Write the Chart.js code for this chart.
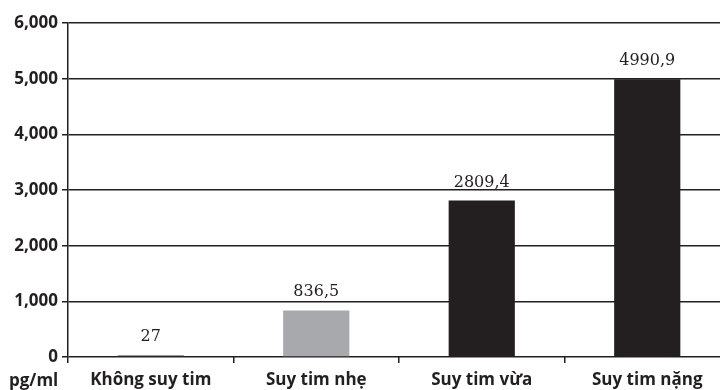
<!DOCTYPE html>
<html>
<head>
<meta charset="utf-8">
<script src="https://cdn.jsdelivr.net/npm/chart.js@4/dist/chart.umd.min.js"></script>
<style>
    body { margin: 0; background: #fff; overflow: hidden; width: 720px; height: 390px; }
    canvas { display: block; }
</style>
</head>
<body>
<canvas id="grafico-nt" width="740" height="390"></canvas>
<script>
// Nồng độ NT-proBNP theo mức độ suy tim
var nhomSuyTim = ['Không suy tim', 'Suy tim nhẹ', 'Suy tim vừa', 'Suy tim nặng'];
var giaTri = [27, 836.5, 2809.4, 4990.9];
var mauCot = ['#3a3839', '#a7a9ac', '#231f20', '#231f20'];
var vachTrucY = [0, 1000, 2000, 3000, 4000, 5000, 6000];
var donVi = 'pg/ml';

var mauChu = '#231f20';
var fontSans = '"Open Sans", "DejaVu Sans", sans-serif';

document.addEventListener('DOMContentLoaded', function() {
    // Giá trị trên đầu cột và đơn vị ở góc dưới trái
    var nhanChu = {
        id: 'nhanChu',
        afterDraw: function(chart) {
            var c = chart.ctx;
            var meta = chart.getDatasetMeta(0);
            c.save();
            c.fillStyle = mauChu;
            c.textBaseline = 'alphabetic';
            c.font = '16px "DejaVu Serif", serif';
            c.textAlign = 'center';
            meta.data.forEach(function(bar, i) {
                var text = String(giaTri[i]).replace('.', ',');
                c.fillText(text, bar.x, bar.y - 14);
            });
            c.font = 'bold 17px ' + fontSans;
            c.textAlign = 'left';
            c.fillText(donVi, 9, 386);
            c.restore();
        }
    };

    new Chart(document.getElementById('grafico-nt'), {
        type: 'bar',
        data: {
            labels: nhomSuyTim,
            datasets: [{
                data: giaTri,
                backgroundColor: function(ctx) { return mauCot[ctx.dataIndex]; },
                barPercentage: 0.4,
                categoryPercentage: 1
            }]
        },
        options: {
            responsive: false,
            animation: false,
            layout: { padding: { top: 23, right: 10, left: 0, bottom: 0 } },
            plugins: {
                legend: { display: false }
            },
            scales: {
                x: {
                    offset: true,
                    grid: {
                        offset: true,
                        drawOnChartArea: false,
                        drawTicks: true,
                        tickLength: 6,
                        color: mauChu,
                        lineWidth: 1.5
                    },
                    border: { display: false },
                    ticks: {
                        color: mauChu,
                        padding: 7,
                        maxRotation: 0,
                        font: { family: fontSans, size: 17, weight: 'bold' }
                    },
                    afterFit: function(scale) { scale.height = 33; }
                },
                y: {
                    min: vachTrucY[0],
                    max: vachTrucY[vachTrucY.length - 1],
                    grid: {
                        color: mauChu,
                        lineWidth: 1.5,
                        drawTicks: true,
                        tickLength: 6
                    },
                    border: { display: true, color: mauChu, width: 1.5 },
                    ticks: {
                        stepSize: vachTrucY[1] - vachTrucY[0],
                        color: mauChu,
                        padding: 4,
                        font: { family: fontSans, size: 17, weight: 'bold' }
                    },
                    afterFit: function(scale) { scale.width = 68; }
                }
            }
        },
        plugins: [nhanChu]
    });
});
</script>
</body>
</html>
